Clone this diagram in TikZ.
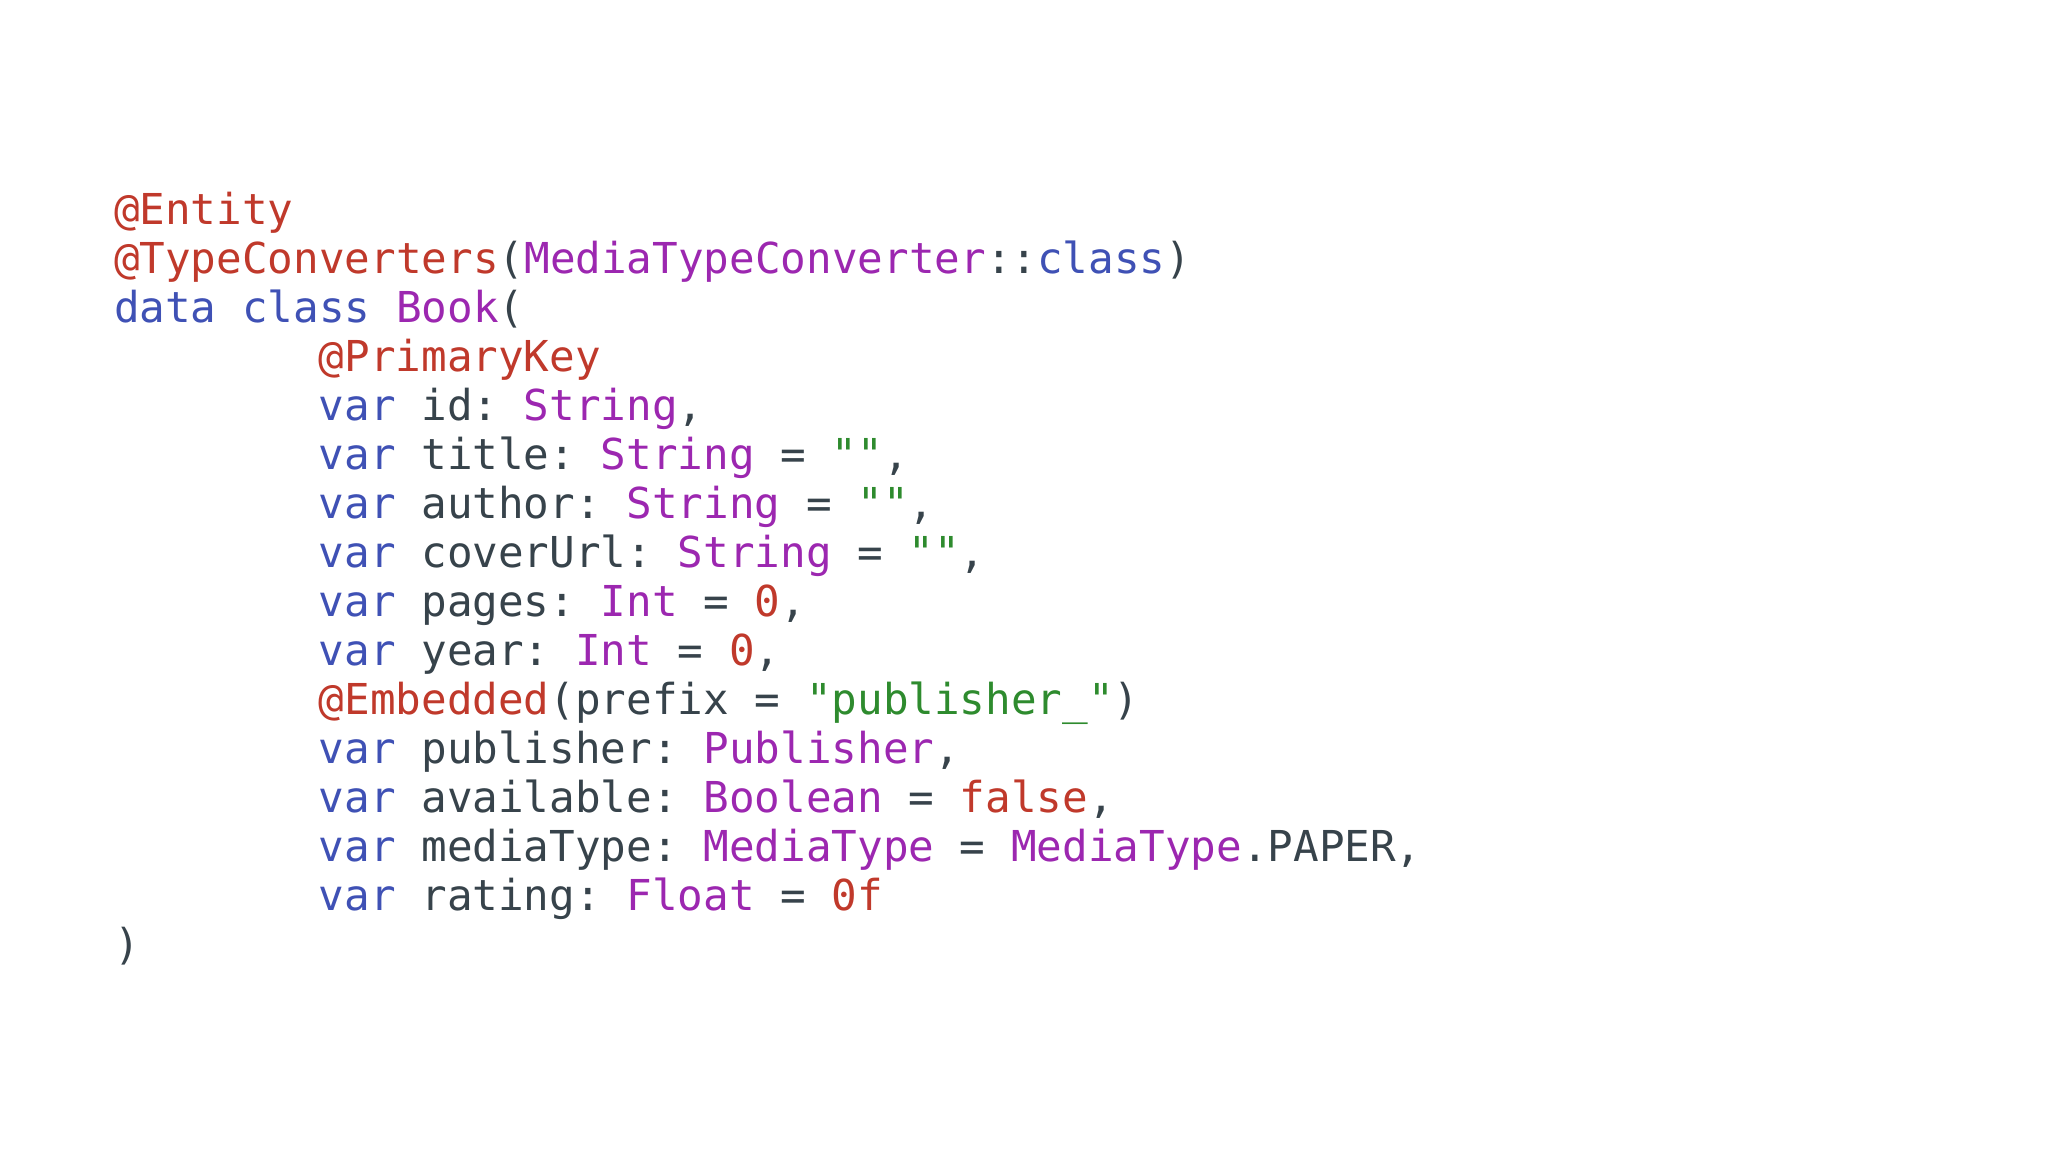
\documentclass[tikz,border=0pt]{standalone}
\usepackage{fontspec}
\setmonofont{DejaVu Sans Mono}
\definecolor{cAn}{HTML}{C0392B}
\definecolor{cTy}{HTML}{9C27B0}
\definecolor{cKw}{HTML}{3F51B5}
\definecolor{cSt}{HTML}{2E8B2E}
\definecolor{cTx}{HTML}{37434B}
\newcommand{\an}[1]{\textcolor{cAn}{#1}}
\newcommand{\ty}[1]{\textcolor{cTy}{#1}}
\newcommand{\kw}[1]{\textcolor{cKw}{#1}}
\newcommand{\st}[1]{\textcolor{cSt}{#1}}
\begin{document}
\begin{tikzpicture}[x=1pt,y=1pt,
  codeline/.style={anchor=base west,inner sep=0pt,font=\ttfamily\fontsize{21.3}{24}\selectfont,text=cTx}]
\useasboundingbox[fill=white] (0,0) rectangle (1024,-576);
\def\L{56.8}\def\I{159.2}
\node[codeline] (l0) at (\L,-112) {\an{@Entity}};
\node[codeline] (l1) at (\L,-136.5) {\an{@TypeConverters}(\ty{MediaTypeConverter}::\kw{class})};
\node[codeline] (l2) at (\L,-161) {\kw{data class} \ty{Book}(};
\node[codeline] (l3) at (\I,-185.5) {\an{@PrimaryKey}};
\node[codeline] (l4) at (\I,-210) {\kw{var} id: \ty{String},};
\node[codeline] (l5) at (\I,-234.5) {\kw{var} title: \ty{String} = \st{""},};
\node[codeline] (l6) at (\I,-259) {\kw{var} author: \ty{String} = \st{""},};
\node[codeline] (l7) at (\I,-283.5) {\kw{var} coverUrl: \ty{String} = \st{""},};
\node[codeline] (l8) at (\I,-308) {\kw{var} pages: \ty{Int} = \an{0},};
\node[codeline] (l9) at (\I,-332.5) {\kw{var} year: \ty{Int} = \an{0},};
\node[codeline] (l10) at (\I,-357) {\an{@Embedded}(prefix = \st{"publisher\_"})};
\node[codeline] (l11) at (\I,-381.5) {\kw{var} publisher: \ty{Publisher},};
\node[codeline] (l12) at (\I,-406) {\kw{var} available: \ty{Boolean} = \an{false},};
\node[codeline] (l13) at (\I,-430.5) {\kw{var} mediaType: \ty{MediaType} = \ty{MediaType}.PAPER,};
\node[codeline] (l14) at (\I,-455) {\kw{var} rating: \ty{Float} = \an{0f}};
\node[codeline] (l15) at (\L,-479.5) {)};
\end{tikzpicture}
\end{document}
